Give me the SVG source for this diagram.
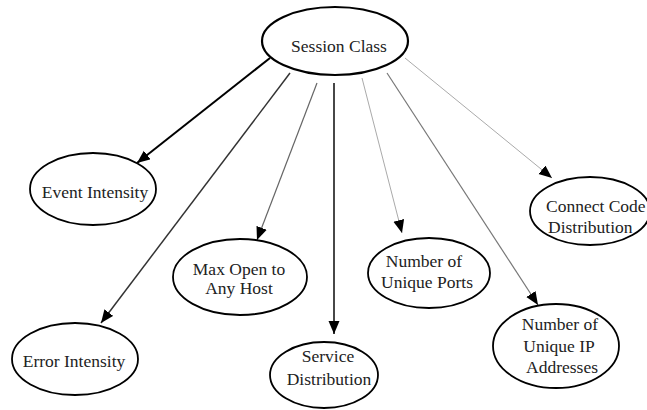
<svg xmlns="http://www.w3.org/2000/svg" width="647" height="410" viewBox="0 0 647 410">
<defs>
<marker id="ah" markerUnits="userSpaceOnUse" markerWidth="14" markerHeight="12" refX="13" refY="5.5" orient="auto">
<path d="M0,0 L13,5.5 L0,11 z" fill="#000"/>
</marker>
<style>
.node ellipse{fill:#fff;stroke:#000;stroke-width:1.8}
.node text{font-family:"Liberation Serif","Times New Roman",serif;font-size:17.5px;fill:#222}
.c{text-anchor:middle}
.edges line{marker-end:url(#ah);fill:none}
</style>
</defs>
<rect width="647" height="410" fill="#fff"/>
<g id="connectors" class="edges">
<line x1="270" y1="58" x2="137" y2="163" stroke="#000" stroke-width="2"/>
<line x1="290" y1="73" x2="101" y2="323" stroke="#333" stroke-width="1.5"/>
<line x1="317" y1="83" x2="257" y2="240" stroke="#666" stroke-width="1.2"/>
<line x1="334" y1="83" x2="334" y2="334" stroke="#333" stroke-width="1.8"/>
<line x1="362" y1="78" x2="402" y2="233" stroke="#aaa" stroke-width="1"/>
<line x1="387" y1="73" x2="538" y2="305" stroke="#777" stroke-width="1.2"/>
<line x1="405" y1="58" x2="552" y2="178" stroke="#aaa" stroke-width="1"/>
</g>
<g id="session-class" class="node">
<ellipse cx="335" cy="41" rx="73" ry="34" style="stroke-width:2.2"/>
<text x="339" y="52" class="c">Session Class</text>
</g>
<g id="event-intensity" class="node">
<ellipse cx="93" cy="189" rx="63" ry="36"/>
<text x="95" y="198" class="c">Event Intensity</text>
</g>
<g id="max-open" class="node">
<ellipse cx="240" cy="277" rx="67" ry="38"/>
<text x="239" y="275" class="c">Max Open to</text>
<text x="239" y="294" class="c">Any Host</text>
</g>
<g id="unique-ports" class="node">
<ellipse cx="429" cy="273" rx="61" ry="35"/>
<text x="424" y="267" class="c">Number of</text>
<text x="427" y="288" class="c">Unique Ports</text>
</g>
<g id="connect-code" class="node">
<ellipse cx="590" cy="211" rx="60" ry="34"/>
<text x="546" y="212">Connect Code</text>
<text x="548" y="233">Distribution</text>
</g>
<g id="error-intensity" class="node">
<ellipse cx="75" cy="359" rx="63" ry="36"/>
<text x="74" y="367" class="c">Error Intensity</text>
</g>
<g id="service-distribution" class="node">
<ellipse cx="324" cy="375" rx="54" ry="33"/>
<text x="328" y="362" class="c">Service</text>
<text x="329" y="385" class="c">Distribution</text>
</g>
<g id="unique-ip" class="node">
<ellipse cx="556" cy="346" rx="63" ry="42"/>
<text x="560" y="330" class="c">Number of</text>
<text x="559" y="352" class="c">Unique IP</text>
<text x="562" y="373" class="c">Addresses</text>
</g>
</svg>
